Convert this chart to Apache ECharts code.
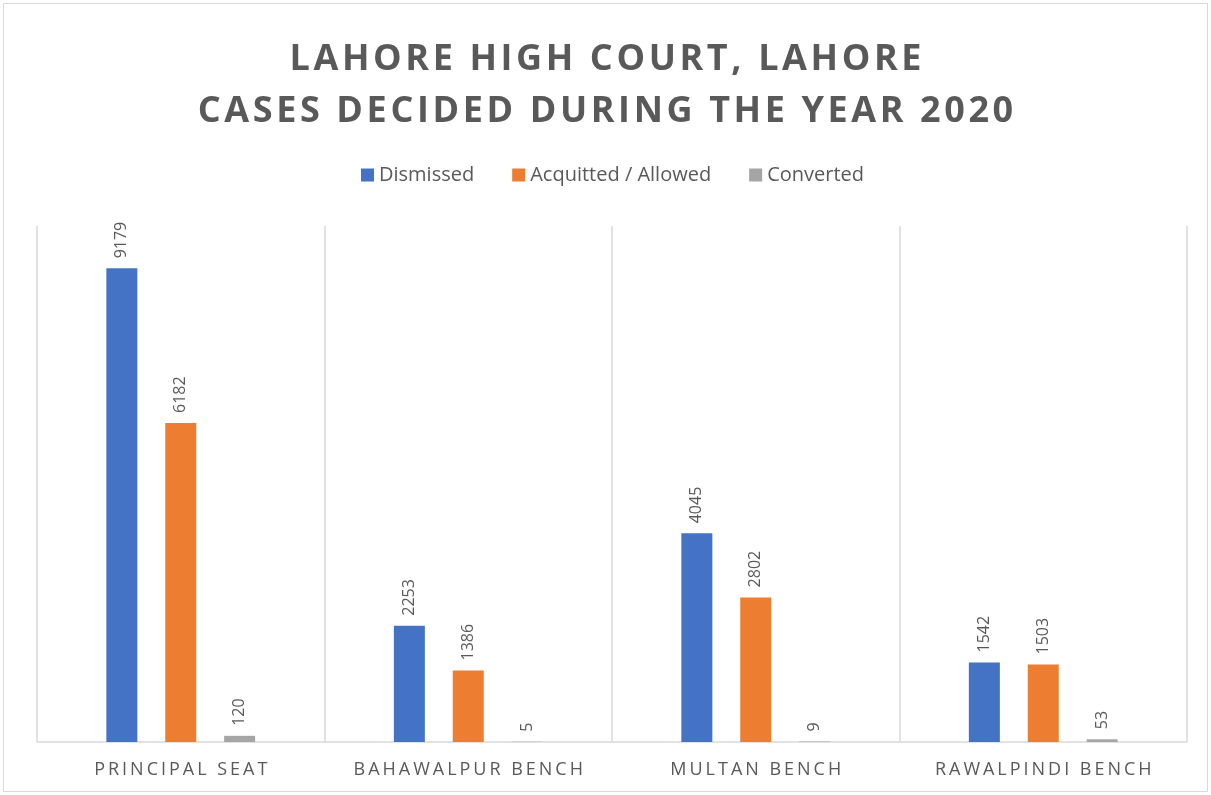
<!DOCTYPE html>
<html>
<head>
<meta charset="utf-8">
<script src="https://cdn.jsdelivr.net/npm/echarts@6/dist/echarts.min.js"></script>
<style>
  html, body { margin: 0; padding: 0; background: #fff; }
  #main { width: 1211px; height: 795px; }
</style>
</head>
<body>
<div id="main"></div>
<script>
var benches = ['PRINCIPAL SEAT', 'BAHAWALPUR BENCH', 'MULTAN BENCH', 'RAWALPINDI BENCH'];
var dismissed = [9179, 2253, 4045, 1542];
var acquitted = [6182, 1386, 2802, 1503];
var converted = [120, 5, 9, 53];

var myChart = echarts.init(document.getElementById('main'));

// spread letters out a bit, like the original
function spaced(s, sep) {
    return s.split('').join(sep || '\u200A');
}

var labelStyle = {
    show: true,
    position: 'top',
    rotate: 90,
    align: 'left',
    verticalAlign: 'middle',
    distance: 10,
    color: '#595959',
    fontSize: 16,
    fontFamily: 'Open Sans'
};

option = {
    backgroundColor: '#fff',
    title: {
        text: spaced('LAHORE HIGH COURT, LAHORE') + '\n' + spaced('CASES DECIDED DURING THE YEAR 2020'),
        left: 'center',
        top: 29,
        textStyle: {
            color: '#595959',
            fontSize: 36,
            fontWeight: 'bold',
            fontFamily: 'Open Sans',
            lineHeight: 52
        }
    },
    legend: {
        top: 160,
        left: 356,
        itemWidth: 13,
        itemHeight: 13,
        itemGap: 38,
        icon: 'rect',
        textStyle: { color: '#595959', fontSize: 20, fontFamily: 'Open Sans' },
        data: ['Dismissed', 'Acquitted / Allowed', 'Converted']
    },
    grid: { left: 37, right: 24, top: 226, bottom: 53 },
    xAxis: {
        type: 'category',
        data: benches,
        axisLine: { lineStyle: { color: '#d9d9d9', width: 1.5 } },
        axisTick: { show: false },
        splitLine: { show: true, interval: 0, lineStyle: { color: '#d9d9d9', width: 1.5 } },
        axisLabel: {
            interval: 0,
            color: '#595959',
            fontSize: 18,
            fontFamily: 'Open Sans',
            margin: 19,
            formatter: function (v) { return spaced(v, '\u2009'); }
        }
    },
    yAxis: {
        type: 'value',
        min: 0,
        max: 10000,
        show: false
    },
    series: [
        { name: 'Dismissed', type: 'bar', data: dismissed, barWidth: 31, barGap: '90%',
          itemStyle: { color: '#4472c4' }, label: labelStyle },
        { name: 'Acquitted / Allowed', type: 'bar', data: acquitted, barWidth: 31, barGap: '90%',
          itemStyle: { color: '#ed7d31' }, label: labelStyle },
        { name: 'Converted', type: 'bar', data: converted, barWidth: 31, barGap: '90%',
          itemStyle: { color: '#a5a5a5' }, label: labelStyle }
    ],
    graphic: [{
        type: 'rect',
        shape: { x: 3.5, y: 3.5, width: 1204, height: 788 },
        style: { fill: 'none', stroke: '#d9d9d9', lineWidth: 1 },
        silent: true
    }]
};

myChart.setOption(option);
</script>
</body>
</html>
